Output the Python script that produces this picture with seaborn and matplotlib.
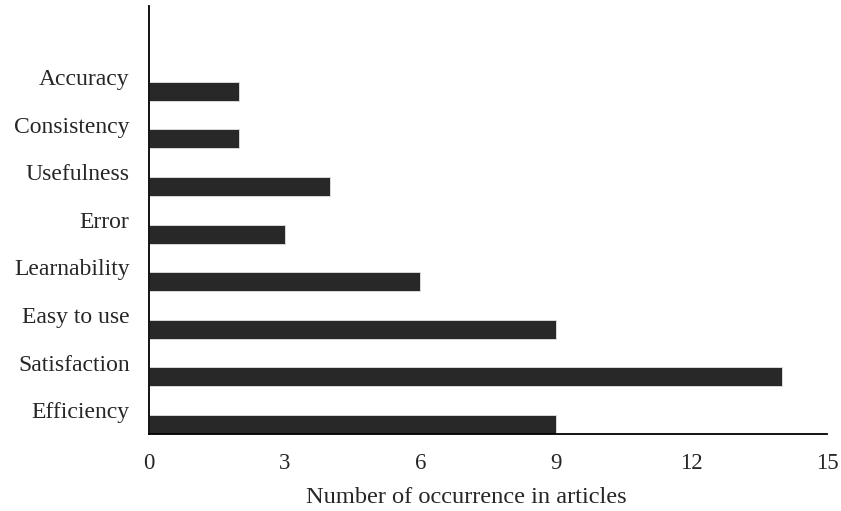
import numpy as np
import pandas as pd
import matplotlib
matplotlib.use("Agg")
import matplotlib.pyplot as plt
import seaborn as sns

# categories listed bottom to top; the top slot of the axis is left empty
categories = ["Efficiency", "Satisfaction", "Easy to use", "Learnability",
              "Error", "Usefulness", "Consistency", "Accuracy"]
counts = [9, 14, 9, 6, 3, 4, 2, 2]
x_ticks = [0, 3, 6, 9, 12, 15]

sns.set_style("white")
plt.rcParams['font.family'] = ['Liberation Serif', 'DejaVu Serif']

df = pd.DataFrame({"category": categories, "count": counts})
# each bar sits in the lower part of its category slot
df["pos"] = np.arange(len(categories)) - 0.3

fig = plt.figure(figsize=(8.41, 5.11), dpi=100)
ax = fig.add_axes([0.1772, 0.1507, 0.8062, 0.8385])

sns.barplot(data=df, x="count", y="pos", orient="h", native_scale=True,
            width=0.4, color="#282828", saturation=1, ax=ax,
            edgecolor="#d9d9d9", linewidth=0.7)

ax.set_ylim(-0.5, len(categories) + 0.5)
ax.set_yticks(np.arange(len(categories)))
ax.set_yticklabels(categories, fontsize=17)
ax.set_xlim(0, 15)
ax.set_xticks(x_ticks)
ax.set_xticklabels([str(t) for t in x_ticks], fontsize=16.5)
ax.tick_params(axis="both", length=0)
ax.tick_params(axis="x", pad=14)
ax.tick_params(axis="y", pad=14)
ax.set_xlabel("Number of occurrence in articles", fontsize=17.6)
ax.xaxis.set_label_coords(0.4676, -0.123)
ax.set_ylabel("")

for side in ["top", "right"]:
    ax.spines[side].set_visible(False)
for side in ["left", "bottom"]:
    ax.spines[side].set_color("black")
    ax.spines[side].set_linewidth(1.3)

fig.savefig("out.png", dpi=100)
